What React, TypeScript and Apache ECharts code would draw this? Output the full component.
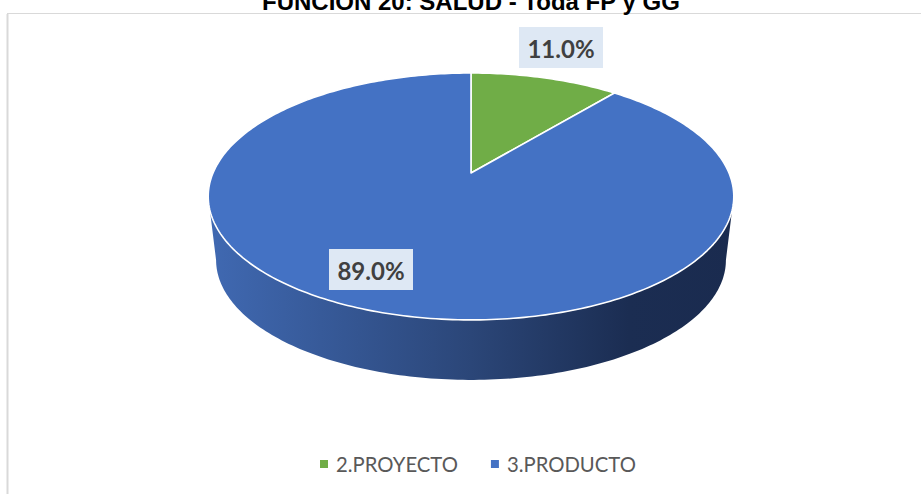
import React, { useEffect, useRef } from "react";
import * as echarts from "echarts";

const titleText = "FUNCIÓN 20: SALUD - Toda FP y GG";
const categories = ["2.PROYECTO", "3.PRODUCTO"];
const shares = [11.0, 89.0];
const colors = ["#70AD47", "#4472C4"];

const W = 921;
const H = 494;
// Perspective projection of the pie's disc
const APEX = { x: 471, y: 173 };
const DISC = { a: 119, b: 258, k: 0.19 };
const FLOOR = { y: 237.4, scale: 0.97 };
const LABEL_BOX = [
  { x: 519, y: 27, w: 84, h: 41 },
  { x: 329, y: 249, w: 84, h: 41 },
];

const project = (deg: number, cy = APEX.y, scale = 1) => {
  const t = (deg * Math.PI) / 180;
  const X = Math.sin(t);
  const Y = Math.cos(t);
  const d = 1 + DISC.k * Y;
  return [APEX.x + (scale * DISC.b * X) / d, cy - (scale * DISC.a * Y) / d];
};

const arcPoints = (from: number, to: number, cy?: number, scale?: number) => {
  const n = Math.max(2, Math.ceil(Math.abs(to - from)));
  const pts: number[][] = [];
  for (let i = 0; i <= n; i++) pts.push(project(from + ((to - from) * i) / n, cy, scale));
  return pts;
};

const sweepOf = (i: number) => {
  const total = shares.reduce((s, v) => s + v, 0);
  const before = shares.slice(0, i).reduce((s, v) => s + v, 0);
  return [(before / total) * 360, ((before + shares[i]) / total) * 360];
};

const wallChildren = () => {
  const edge = (Math.acos(-DISC.k) * 180) / Math.PI;
  const top = arcPoints(edge, 360 - edge);
  const floor = arcPoints(360 - edge, edge, FLOOR.y, FLOOR.scale);
  return [
    {
      type: "polygon",
      shape: { points: [...top, ...floor] },
      style: {
        fill: new echarts.graphic.LinearGradient(0, 0, 1, 0, [
          { offset: 0, color: "#4069B2" },
          { offset: 0.5, color: "#2B4678" },
          { offset: 0.8, color: "#1B2D52" },
          { offset: 1, color: "#1A2B4F" },
        ]),
      },
    },
  ];
};

const makeRender = (i: number) => () => {
  const [from, to] = sweepOf(i);
  const box = LABEL_BOX[i];
  const children: any[] = i === 1 ? wallChildren() : [];
  children.push({
    type: "polygon",
    shape: { points: [[APEX.x, APEX.y], ...arcPoints(from, to)] },
    style: { fill: colors[i], stroke: "#FFFFFF", lineWidth: 1.6, lineJoin: "round" },
  });
  children.push({
    type: "rect",
    shape: { x: box.x, y: box.y, width: box.w, height: box.h },
    style: { fill: "#DEE8F4" },
  });
  children.push({
    type: "text",
    style: {
      text: shares[i].toFixed(1) + "%",
      x: box.x + box.w / 2,
      y: box.y + box.h / 2 + 1,
      align: "center",
      verticalAlign: "middle",
      fill: "#404040",
      font: "bold 24px Lato",
    },
  });
  return { type: "group", children };
};

export default function App() {
  const ref = useRef<HTMLDivElement>(null);
  useEffect(() => {
    document.body.style.margin = "0";
    const chart = echarts.init(ref.current!, undefined, { renderer: "svg" });
    chart.setOption({
      animation: false,
      backgroundColor: "#FFFFFF",
      title: {
        text: titleText,
        left: 262,
        top: -11,
        padding: 0,
        textStyle: { fontFamily: "Liberation Sans", fontWeight: "bold", fontSize: 24, color: "#000000" },
      },
      legend: {
        data: categories,
        left: 320,
        top: 454,
        icon: "rect",
        itemWidth: 8,
        itemHeight: 8,
        itemGap: 33,
        padding: 0,
        textStyle: { fontFamily: "Lato", fontSize: 20.3, color: "#595959", padding: [0, 0, 0, 3] },
      },
      graphic: [
        { type: "line", shape: { x1: 7.5, y1: 14, x2: 7.5, y2: H }, style: { stroke: "#D9D9D9", lineWidth: 2 } },
        { type: "line", shape: { x1: 7, y1: 13.5, x2: W, y2: 13.5 }, style: { stroke: "#D9D9D9", lineWidth: 1 } },
      ],
      series: categories.map((name, i) => ({
        type: "custom",
        name,
        coordinateSystem: "none",
        silent: true,
        itemStyle: { color: colors[i] },
        data: [shares[i]],
        renderItem: makeRender(i),
      })),
    });
    return () => chart.dispose();
  }, []);
  return <div ref={ref} style={{ position: "fixed", left: 0, top: 0, width: W, height: H }} />;
}
